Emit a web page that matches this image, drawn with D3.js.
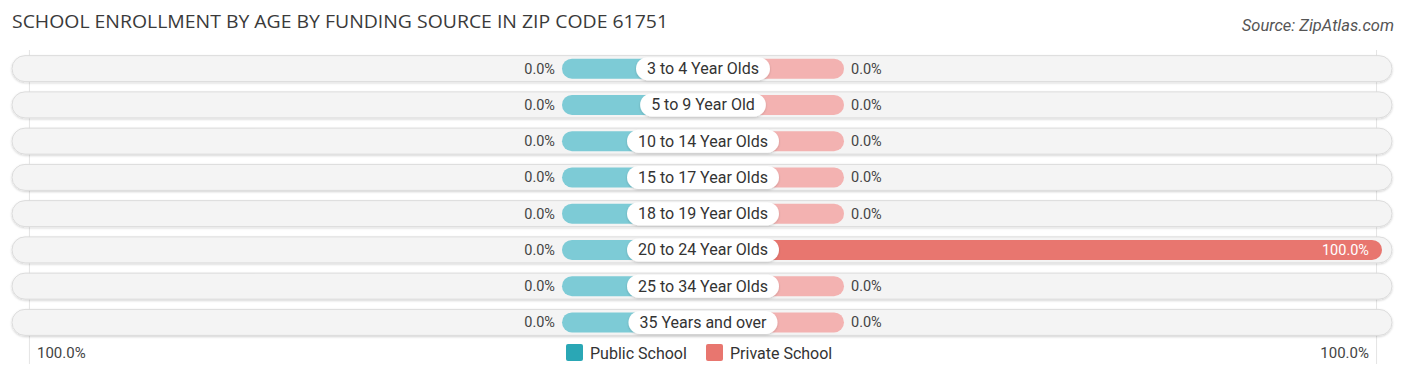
<!DOCTYPE html>
<html><head><meta charset="utf-8">
<script src="https://cdn.jsdelivr.net/npm/d3@7/dist/d3.min.js"></script>
<style>
body{margin:0;background:#fff;}
svg{display:block;}
</style></head>
<body>
<svg id="chart" width="1406" height="377"></svg>
<script>
const categories = ["3 to 4 Year Olds","5 to 9 Year Old","10 to 14 Year Olds","15 to 17 Year Olds","18 to 19 Year Olds","20 to 24 Year Olds","25 to 34 Year Olds","35 Years and over"];
const publicValues = [0,0,0,0,0,0,0,0];
const privateValues = [0,0,0,0,0,100,0,0];
const axisTickLabels = ["100.0%","100.0%"];
const seriesNames = ["Public School","Private School"];

const svg = d3.select("#chart");
const cx = 703;
const font = "Roboto, 'Noto Sans', sans-serif";

svg.append("text").attr("x",12).attr("y",28)
  .attr("font-family","'Open Sans', 'Noto Sans', sans-serif").attr("font-size",18)
  .attr("textLength",656).attr("lengthAdjust","spacingAndGlyphs")
  .attr("fill","#3a3a3a").text("SCHOOL ENROLLMENT BY AGE BY FUNDING SOURCE IN ZIP CODE 61751");
svg.append("text").attr("x",1394).attr("y",31).attr("text-anchor","end")
  .attr("font-family",font).attr("font-size",16.5).attr("font-style","italic")
  .attr("fill","#555").text("Source: ZipAtlas.com");

const y = d3.scaleBand().domain(categories).range([50.5,340.5]).paddingInner(0);
const xr = d3.scaleLinear().domain([0,100]).range([0,679]);
const minW = 141;

const defs = svg.append("defs");
const f = defs.append("filter").attr("id","sh").attr("x","-5%").attr("y","-30%").attr("width","110%").attr("height","160%");
f.append("feDropShadow").attr("dx",0).attr("dy",1).attr("stdDeviation",1).attr("flood-color","#000").attr("flood-opacity",0.18);

[xr(100), -xr(100)].forEach(d=>{
  svg.append("line").attr("x1",cx+d*0.992).attr("x2",cx+d*0.992).attr("y1",50).attr("y2",364)
    .attr("stroke","#e4e4e4").attr("stroke-width",1);
});

const rows = svg.append("g").selectAll("g").data(categories).join("g")
  .attr("transform",d=>`translate(0,${y(d)+y.bandwidth()/2})`);

rows.append("rect").attr("x",12).attr("y",-13).attr("width",1380).attr("height",26)
  .attr("rx",13).attr("fill","#f4f4f4").attr("stroke","#dcdcdc").attr("stroke-width",1).attr("filter","url(#sh)");

rows.append("rect")
  .attr("x",(d,i)=>cx-Math.max(xr(publicValues[i]),minW))
  .attr("width",(d,i)=>Math.max(xr(publicValues[i]),minW))
  .attr("y",-10).attr("height",20).attr("rx",10)
  .attr("fill",(d,i)=>publicValues[i]>0?"#2aa7b5":"#7dcbd6");
rows.append("rect")
  .attr("x",cx)
  .attr("width",(d,i)=>Math.max(xr(privateValues[i]),minW))
  .attr("y",-10).attr("height",20).attr("rx",10)
  .attr("fill",(d,i)=>privateValues[i]>=50?"#e8766f":"#f3b2b1");

rows.append("text")
  .attr("x",(d,i)=>cx-Math.max(xr(publicValues[i]),minW)-7)
  .attr("y",5).attr("text-anchor","end").attr("font-family",font).attr("font-size",14.5)
  .attr("fill","#444").text((d,i)=>publicValues[i].toFixed(1)+"%");
rows.append("text")
  .attr("x",(d,i)=>privateValues[i]>=50? cx+xr(privateValues[i])-13 : cx+Math.max(xr(privateValues[i]),minW)+7)
  .attr("y",5).attr("text-anchor",(d,i)=>privateValues[i]>=50?"end":"start")
  .attr("font-family",font).attr("font-size",14.5)
  .attr("fill",(d,i)=>privateValues[i]>=50?"#fff":"#444").text((d,i)=>privateValues[i].toFixed(1)+"%");

rows.each(function(d){
  const g = d3.select(this);
  const t = g.append("text").attr("x",cx).attr("y",5.5).attr("text-anchor","middle")
    .attr("font-family",font).attr("font-size",16).attr("fill","#333").text(d);
  const w = t.node().getComputedTextLength()+22;
  g.insert("rect","text:last-of-type").attr("x",cx-w/2).attr("y",-11.5).attr("width",w).attr("height",23)
    .attr("rx",11.5).attr("fill","#fff").attr("filter","url(#sh)");
});

svg.append("text").attr("x",37).attr("y",358).attr("font-family",font).attr("font-size",15)
  .attr("fill","#444").text(axisTickLabels[0]);
svg.append("text").attr("x",1369).attr("y",358).attr("text-anchor","end").attr("font-family",font).attr("font-size",15)
  .attr("fill","#444").text(axisTickLabels[1]);

const legColors = ["#2aa7b5","#e8766f"];
const legX = [566,706];
seriesNames.forEach((n,i)=>{
  svg.append("rect").attr("x",legX[i]).attr("y",344).attr("width",17).attr("height",17).attr("rx",2)
    .attr("fill",legColors[i]);
  svg.append("text").attr("x",legX[i]+24).attr("y",358.5).attr("font-family",font).attr("font-size",16)
    .attr("fill","#333").text(n);
});
</script>
</body></html>
